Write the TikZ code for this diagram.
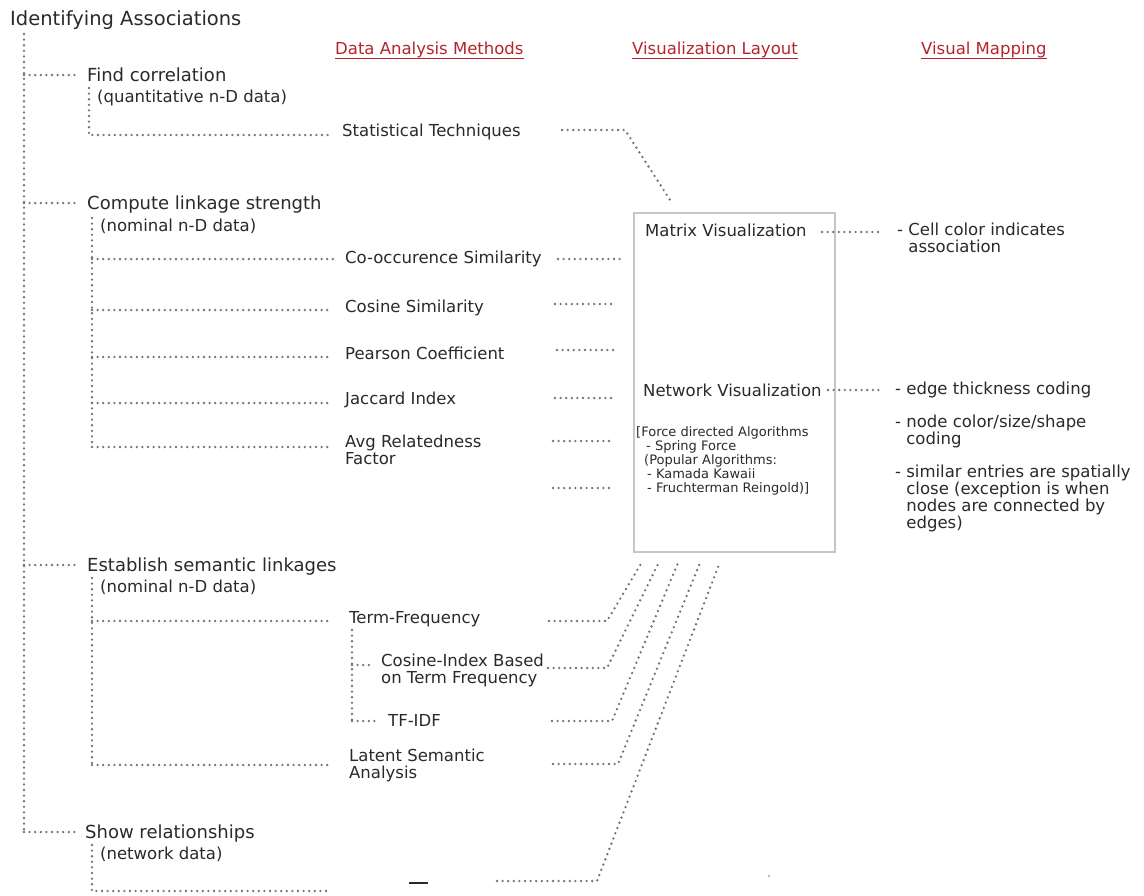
\documentclass[tikz,border=0pt]{standalone}
\usepackage{fontspec}
\setmainfont{DejaVu Sans}
\definecolor{txt}{HTML}{2A2A2A}
\definecolor{hdrc}{HTML}{B5252A}
\definecolor{dotc}{HTML}{747474}
\definecolor{boxc}{HTML}{C6C6C6}
\begin{document}
\begin{tikzpicture}[x=1pt,y=-1pt,
  lbl/.style={anchor=mid west, inner sep=0pt, yshift=-4pt, text=txt, font=\fontsize{16.5}{17}\selectfont},
  lvl/.style={lbl, font=\fontsize{18}{18}\selectfont},
  ml/.style={anchor=north west, inner sep=0pt, yshift=-2pt, align=left, text=txt, font=\fontsize{16.5}{16.8}\selectfont},
  small/.style={anchor=north west, inner sep=0pt, yshift=-2pt, align=left, text=txt, font=\fontsize{13}{14.2}\selectfont},
  hdr/.style={anchor=mid west, inner sep=0pt, yshift=-4pt, text=hdrc, font=\fontsize{16.5}{17}\selectfont},
  uline/.style={draw=hdrc, line width=1.3pt},
  dots/.style={draw=dotc, line width=2.6pt, line cap=round, dash pattern=on 0pt off 5.6pt},
  layoutbox/.style={draw=boxc, line width=2pt, fill=none, anchor=north west, inner sep=0pt}]
\useasboundingbox[fill=white] (0,0) rectangle (1144,895);

% ---------- title and headers ----------
\node[lbl, font=\fontsize{19.5}{20}\selectfont] (title) at (10,19) {Identifying Associations};
\node[hdr] (h1) at (335,48) {Data Analysis Methods};
\node[hdr] (h2) at (632,48) {Visualization Layout};
\node[hdr] (h3) at (921,48) {Visual Mapping};
\foreach \h in {h1,h2,h3}
  \draw[uline] ([yshift=-4pt]\h.base west) -- ([yshift=-4pt]\h.base east);

% ---------- trunk ----------
\coordinate (t0) at (24,34);
\coordinate (t1) at (24,75);
\coordinate (t2) at (24,203);
\coordinate (t3) at (24,565);
\coordinate (t4) at (24,832);
\draw[dots] (t0) -- (t4);

% ---------- level 1 ----------
\node[lvl] (fc) at (87,75) {Find correlation};
\node[lbl] (fcq) at (97,96) {(quantitative n-D data)};
\node[lvl] (cl) at (87,203) {Compute linkage strength};
\node[lbl] (cln) at (100,225) {(nominal n-D data)};
\node[lvl] (es) at (87,565) {Establish semantic linkages};
\node[lbl] (esn) at (100,586) {(nominal n-D data)};
\node[lvl] (sr) at (85,832) {Show relationships};
\node[lbl] (srn) at (100,853) {(network data)};

\draw[dots] (t1) -- (76,75);
\draw[dots] (t2) -- (76,203);
\draw[dots] (t3) -- (76,565);
\draw[dots] (t4) -- (76,832);

% ---------- data analysis methods ----------
\node[lbl] (st) at (342,130) {Statistical Techniques};
\node[lbl] (co) at (345,257) {Co-occurence Similarity};
\node[lbl] (cs) at (345,306) {Cosine Similarity};
\node[lbl] (pc) at (345,353) {Pearson Coefficient};
\node[lbl] (ji) at (345,398) {Jaccard Index};
\node[ml] (ar) at (345,433) {Avg Relatedness\\Factor};
\node[lbl] (tf) at (349,617) {Term-Frequency};
\node[ml] (ci) at (381,652) {Cosine-Index Based\\on Term Frequency};
\node[lbl] (tfidf) at (388,720) {TF-IDF};
\node[ml] (lsa) at (349,747) {Latent Semantic\\Analysis};

% branch: find correlation
\coordinate (a0) at (89,88);
\coordinate (a1) at (89,135);
\draw[dots] (a0) -- (a1) -- (330,135);

% branch: compute linkage strength
\coordinate (b0) at (92,218);
\coordinate (b5) at (92,447);
\draw[dots] (b0) -- (b5);
\draw[dots] (92,259) -- (335,259);
\draw[dots] (92,310) -- (332,310);
\draw[dots] (92,357) -- (332,357);
\draw[dots] (92,403) -- (332,403);
\draw[dots] (b5) -- (332,447);

% branch: establish semantic linkages
\coordinate (c0) at (92,578);
\coordinate (c2) at (92,765);
\draw[dots] (c0) -- (c2);
\draw[dots] (92,621) -- (330,621);
\draw[dots] (c2) -- (330,765);
\coordinate (d0) at (352,630);
\coordinate (d2) at (352,721);
\draw[dots] (d0) -- (d2);
\draw[dots] (352,665) -- (372,665);
\draw[dots] (d2) -- (376,721);

% branch: show relationships
\coordinate (e0) at (92,845);
\coordinate (e1) at (92,891);
\draw[dots] (e0) -- (e1) -- (330,891);

% ---------- visualization layout box ----------
\node[layoutbox, minimum width=201pt, minimum height=339pt] (box) at (633,212) {};
\node[lbl] (mv) at (645,230) {Matrix Visualization};
\node[lbl] (nv) at (643,390) {Network Visualization};
\node[small] (fd) at (636,424) {[Force directed Algorithms\\
\hspace*{10pt}- Spring Force\\
\hspace*{8pt}(Popular Algorithms:\\
\hspace*{11pt}- Kamada Kawaii\\
\hspace*{11pt}- Fruchterman Reingold)]};

% connectors into the box
\draw[dots] (562,130) -- (625,130) -- (672,203);
\draw[dots] (558,259) -- (620,259);
\draw[dots] (555,304) -- (615,304);
\draw[dots] (557,350) -- (617,350);
\draw[dots] (555,398) -- (615,398);
\draw[dots] (553,441) -- (613,441);
\draw[dots] (553,488) -- (613,488);
\draw[dots] (549,621) -- (607,621) -- (642,562);
\draw[dots] (548,668) -- (607,668) -- (659,562);
\draw[dots] (552,721) -- (612,721) -- (678,563);
\draw[dots] (553,764) -- (618,764) -- (700,563);
\draw[dots] (497,881) -- (597,881) -- (720,562);

% ---------- visual mapping ----------
\node[ml] (m1) at (897,221) {- Cell color indicates\\\phantom{- }association};
\node[lbl] (m2) at (895,388) {- edge thickness coding};
\node[ml] (m3) at (895,413) {- node color/size/shape\\\phantom{- }coding};
\node[ml] (m4) at (895,463) {- similar entries are spatially\\\phantom{- }close (exception is when\\\phantom{- }nodes are connected by\\\phantom{- }edges)};
\draw[dots] (822,232) -- (880,232);
\draw[dots] (828,390) -- (880,390);

% ---------- stray marks ----------
\draw[txt, line width=1.3pt] (409,883) -- (428,883);
\fill[dotc] (769,876) circle (0.8pt);
\end{tikzpicture}
\end{document}
